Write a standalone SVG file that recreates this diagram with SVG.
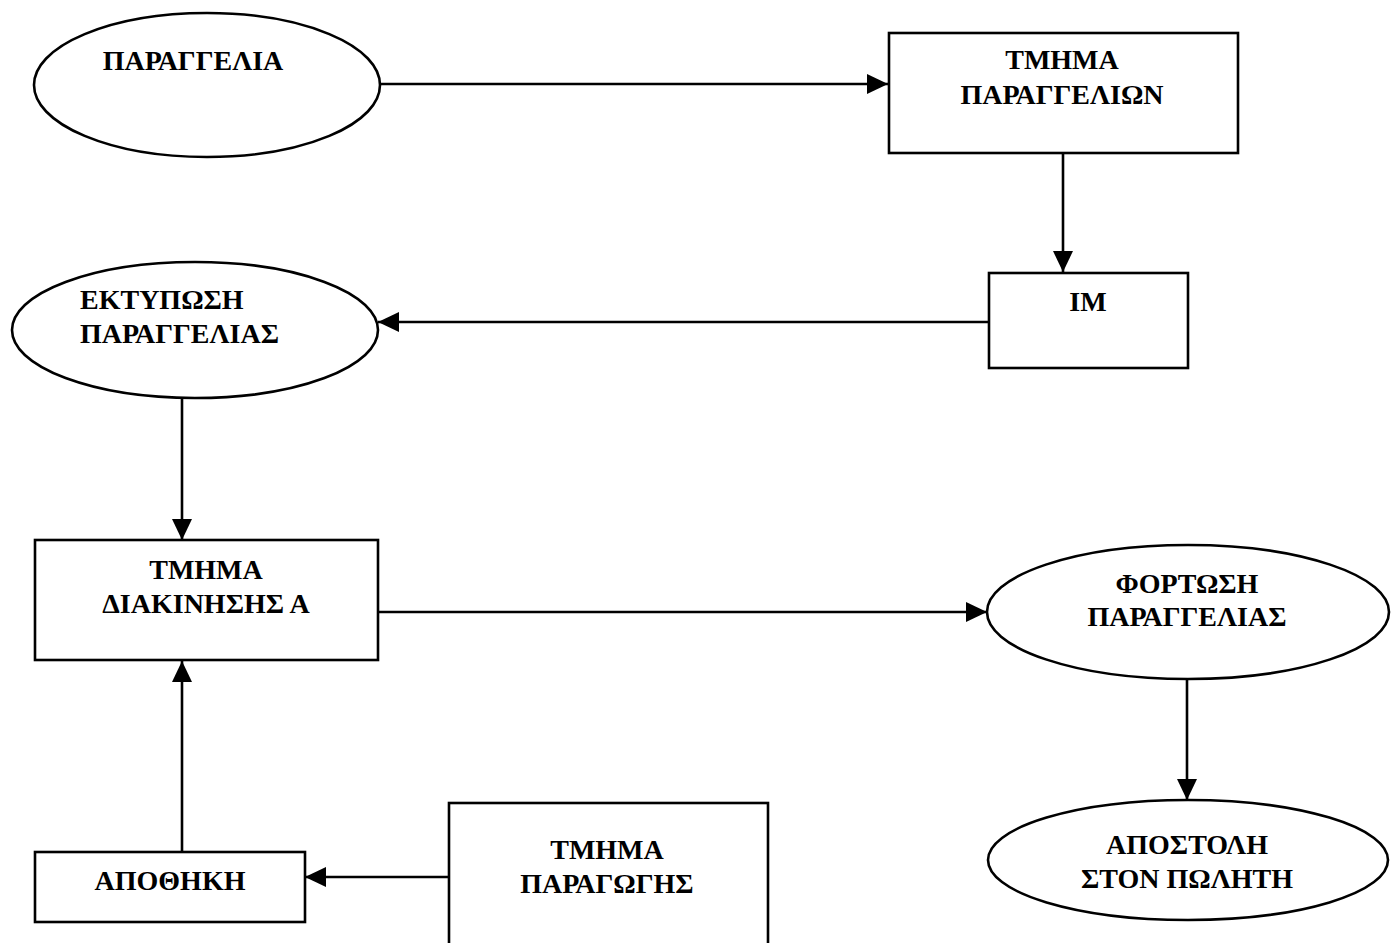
<svg xmlns="http://www.w3.org/2000/svg" width="1397" height="943" viewBox="0 0 1397 943">
<style>
.shape{fill:#fff;stroke:#000;stroke-width:2.6}
.lbl{font-family:"Liberation Serif","Times New Roman",serif;font-weight:bold;font-size:28px;fill:#000;text-anchor:middle}
.lbl-l{font-family:"Liberation Serif","Times New Roman",serif;font-weight:bold;font-size:28px;fill:#000}
.conn{fill:none;stroke:#000;stroke-width:2.6;marker-end:url(#arr)}
</style>
<defs>
<marker id="arr" markerUnits="userSpaceOnUse" markerWidth="22" markerHeight="20" refX="21" refY="10" orient="auto">
<path d="M0,0 L21,10 L0,20 z" fill="#000"/>
</marker>
</defs>
<rect width="1397" height="943" fill="#fff"/>
<g id="connectors">
<line class="conn" x1="380" y1="84" x2="888" y2="84"/>
<line class="conn" x1="1063" y1="153" x2="1063" y2="272"/>
<line class="conn" x1="989" y1="322" x2="378" y2="322"/>
<line class="conn" x1="182" y1="398" x2="182" y2="540"/>
<line class="conn" x1="378" y1="612" x2="987" y2="612"/>
<line class="conn" x1="1187" y1="679" x2="1187" y2="800"/>
<line class="conn" x1="449" y1="877" x2="305" y2="877"/>
<line class="conn" x1="182" y1="852" x2="182" y2="661"/>
</g>
<g id="n-paraggelia">
<ellipse class="shape" cx="207" cy="85" rx="173" ry="72"/>
<text class="lbl" x="193" y="70">ΠΑΡΑΓΓΕΛΙΑ</text>
</g>
<g id="n-tmima-paraggelion">
<rect class="shape" x="889" y="33" width="349" height="120"/>
<text class="lbl" x="1062" y="69">ΤΜΗΜΑ</text>
<text class="lbl" x="1062" y="104">ΠΑΡΑΓΓΕΛΙΩΝ</text>
</g>
<g id="n-im">
<rect class="shape" x="989" y="273" width="199" height="95"/>
<text class="lbl" x="1088" y="311">IM</text>
</g>
<g id="n-ektyposi">
<ellipse class="shape" cx="195" cy="330" rx="183" ry="68"/>
<text class="lbl-l" x="80" y="309">ΕΚΤΥΠΩΣΗ</text>
<text class="lbl-l" x="80" y="343">ΠΑΡΑΓΓΕΛΙΑΣ</text>
</g>
<g id="n-tmima-diakinisis">
<rect class="shape" x="35" y="540" width="343" height="120"/>
<text class="lbl" x="206" y="579">ΤΜΗΜΑ</text>
<text class="lbl" x="206" y="613">ΔΙΑΚΙΝΗΣΗΣ Α</text>
</g>
<g id="n-fortosi">
<ellipse class="shape" cx="1188" cy="612" rx="201" ry="67"/>
<text class="lbl" x="1187" y="593">ΦΟΡΤΩΣΗ</text>
<text class="lbl" x="1187" y="626">ΠΑΡΑΓΓΕΛΙΑΣ</text>
</g>
<g id="n-apostoli">
<ellipse class="shape" cx="1188" cy="860" rx="200" ry="60"/>
<text class="lbl" x="1187" y="854">ΑΠΟΣΤΟΛΗ</text>
<text class="lbl" x="1187" y="888">ΣΤΟΝ ΠΩΛΗΤΗ</text>
</g>
<g id="n-apothiki">
<rect class="shape" x="35" y="852" width="270" height="70"/>
<text class="lbl" x="170" y="890">ΑΠΟΘΗΚΗ</text>
</g>
<g id="n-tmima-paragogis">
<rect class="shape" x="449" y="803" width="319" height="160"/>
<text class="lbl" x="607" y="859">ΤΜΗΜΑ</text>
<text class="lbl" x="607" y="893">ΠΑΡΑΓΩΓΗΣ</text>
</g>
</svg>
